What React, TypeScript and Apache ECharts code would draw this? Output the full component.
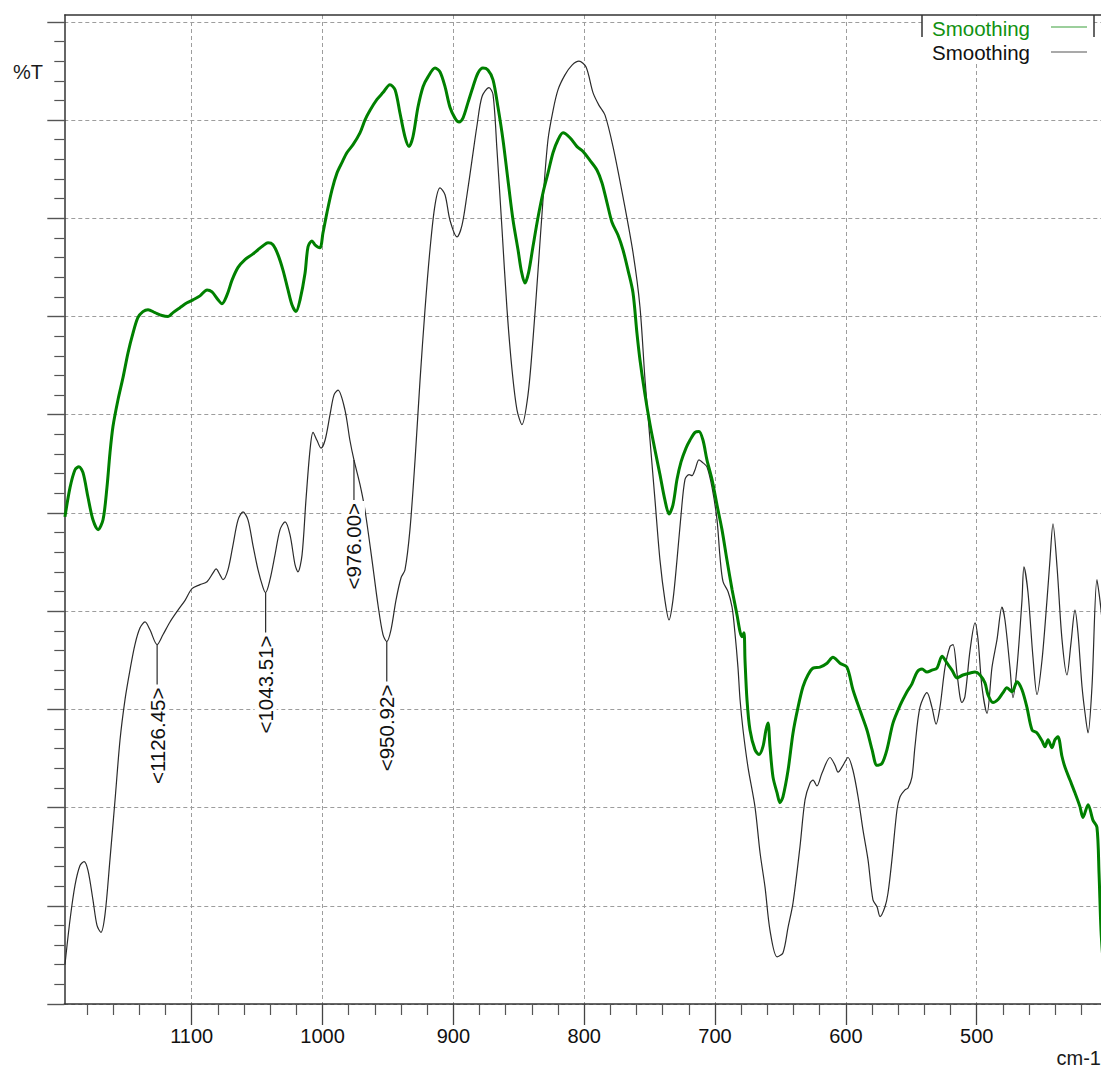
import { useEffect, useRef } from "react";
import * as echarts from "echarts";

const FONT = '"Liberation Sans", Arial, Helvetica, sans-serif';
const LABEL_FONT = `20.5px ${FONT}`;

// Axis ticks (wavenumber in cm-1, transmittance in %T)
const xMajorTicks = [500, 600, 700, 800, 900, 1000, 1100];
const xMinorTicks = [
  420, 440, 460, 480, 520, 540, 560, 580, 620, 640, 660, 680, 720, 740, 760, 780,
  820, 840, 860, 880, 920, 940, 960, 980, 1020, 1040, 1060, 1080, 1120, 1140, 1160, 1180,
];
const yMajorTicks = [0, 10, 20, 30, 40, 50, 60, 70, 80, 90, 100];
const yMinorTicks = [
  2, 4, 6, 8, 12, 14, 16, 18, 22, 24, 26, 28, 32, 34, 36, 38, 42, 44, 46, 48, 52, 54, 56, 58,
  62, 64, 66, 68, 72, 74, 76, 78, 82, 84, 86, 88, 92, 94, 96, 98,
];

// Spectrum 1 (thin black trace): [wavenumber, %T]
const blackTrace: [number, number][] = [
  [1196.9, 4.0], [1193.0, 8.6], [1189.2, 12.1], [1185.4, 14.1], [1182.3, 14.5], [1179.3, 13.6],
  [1175.5, 10.6], [1172.4, 8.0], [1169.4, 7.3], [1166.3, 9.1], [1162.5, 14.7], [1158.6, 20.8],
  [1154.8, 26.9], [1151.0, 31.0], [1147.2, 34.0], [1143.4, 36.6], [1139.5, 38.3], [1135.7, 38.9],
  [1131.9, 38.1], [1126.45, 36.6], [1122.0, 37.6], [1116.6, 38.9], [1110.5, 40.1], [1105.1, 41.1],
  [1099.8, 42.3], [1093.7, 42.7], [1088.3, 43.0], [1083.7, 43.9], [1081.4, 44.3], [1078.4, 43.7],
  [1076.1, 43.2], [1072.3, 44.2], [1068.5, 46.7], [1064.6, 49.3], [1060.8, 50.1], [1057.0, 49.3],
  [1053.2, 46.7], [1049.3, 44.2], [1045.5, 42.4], [1043.51, 41.9], [1040.2, 43.2], [1036.4, 45.7],
  [1032.5, 48.3], [1028.7, 49.1], [1024.9, 47.8], [1021.0, 44.7], [1018.8, 44.0], [1015.7, 45.7],
  [1012.7, 51.3], [1009.6, 56.4], [1007.3, 58.2], [1004.3, 57.4], [1001.2, 56.6], [998.1, 57.4],
  [994.3, 60.0], [991.3, 62.0], [988.2, 62.5], [982.9, 60.5], [979.1, 57.4], [976.0, 55.4],
  [971.4, 52.9], [967.6, 50.3], [962.2, 45.2], [957.6, 40.6], [953.8, 37.6], [950.92, 36.9],
  [947.7, 38.1], [943.9, 41.1], [940.0, 43.4], [937.0, 44.2], [933.2, 48.3], [929.3, 55.4],
  [925.5, 63.5], [921.7, 70.7], [917.9, 76.8], [914.0, 81.4], [910.2, 83.1], [906.4, 82.4],
  [902.6, 79.8], [897.2, 78.1], [893.4, 79.3], [889.6, 82.4], [885.8, 85.9], [881.9, 89.5],
  [878.1, 92.4], [872.8, 93.3], [869.7, 92.6], [866.7, 87.0], [862.8, 78.8], [859.0, 70.7],
  [855.2, 64.6], [851.4, 60.5], [847.6, 59.0], [843.0, 62.0], [839.2, 67.6], [835.3, 74.7],
  [831.5, 81.9], [827.7, 88.0], [823.8, 91.0], [820.0, 93.1], [814.7, 94.6], [809.3, 95.6],
  [804.0, 96.0], [798.6, 95.4], [793.3, 92.8], [788.7, 91.5], [784.1, 90.5], [778.0, 87.3],
  [770.4, 82.2], [762.7, 76.5], [757.4, 71.0], [753.5, 63.5], [749.7, 57.4], [745.9, 51.3],
  [742.1, 45.2], [738.3, 41.1], [735.2, 39.1], [732.2, 41.1], [729.1, 45.2], [726.0, 49.8],
  [723.0, 53.4], [719.9, 53.9], [717.6, 53.8], [715.3, 54.4], [712.3, 55.4], [709.2, 55.1],
  [706.2, 54.7], [702.3, 52.6], [698.5, 49.3], [696.2, 45.5], [693.9, 43.0], [690.1, 42.0],
  [687.0, 40.4], [684.8, 37.8], [682.5, 34.3], [680.9, 31.0], [678.6, 27.9], [674.8, 24.1],
  [669.5, 20.1], [665.6, 15.4], [661.8, 11.9], [658.0, 7.5], [652.6, 4.8], [648.1, 5.2],
  [644.2, 7.8], [640.4, 10.3], [635.1, 16.0], [631.2, 20.8], [627.4, 22.5], [625.1, 22.8],
  [622.1, 22.2], [618.3, 23.5], [612.1, 25.1], [608.3, 24.3], [606.0, 23.6], [602.2, 24.3],
  [598.4, 25.1], [594.6, 23.8], [590.7, 21.1], [586.9, 17.7], [583.1, 14.7], [579.3, 10.6],
  [576.2, 9.9], [573.9, 8.9], [570.1, 9.9], [567.8, 11.3], [564.8, 14.7], [560.9, 19.8],
  [558.6, 21.1], [554.8, 21.8], [552.5, 22.0], [549.5, 23.1], [547.2, 26.2], [543.4, 30.2],
  [538.0, 31.7], [534.2, 30.2], [531.1, 28.5], [528.1, 30.2], [524.2, 34.3], [520.4, 36.4],
  [518.1, 36.6], [515.1, 33.7], [512.8, 31.3], [511.3, 30.7], [509.0, 31.3], [505.1, 36.0],
  [501.3, 38.8], [499.0, 37.1], [496.0, 32.3], [492.1, 29.6], [488.3, 34.3], [484.5, 37.1],
  [480.7, 40.4], [478.4, 39.1], [474.6, 34.3], [472.3, 31.2], [469.2, 34.3], [465.4, 41.1],
  [463.9, 44.5], [460.8, 41.9], [457.0, 35.3], [453.9, 31.5], [450.1, 35.0], [446.3, 41.1],
  [444.0, 45.2], [441.7, 48.9], [438.6, 44.5], [434.8, 37.1], [431.0, 33.5], [427.9, 36.8],
  [424.9, 40.1], [422.6, 37.8], [419.5, 32.3], [417.2, 29.6], [414.9, 27.6], [411.9, 32.3],
  [408.1, 43.2], [405.8, 41.1], [404.2, 39.1],
];

// Spectrum 2 (thick green trace): [wavenumber, %T]
const greenTrace: [number, number][] = [
  [1196.9, 49.6], [1193.0, 52.6], [1189.2, 54.4], [1186.2, 54.7], [1183.1, 54.1], [1179.3, 51.6],
  [1175.5, 49.3], [1171.6, 48.3], [1167.8, 49.3], [1164.8, 52.6], [1162.5, 56.1], [1160.2, 58.8],
  [1156.4, 61.5], [1152.5, 63.8], [1148.7, 66.3], [1144.9, 68.3], [1141.1, 69.9], [1137.3, 70.5],
  [1133.4, 70.7], [1128.1, 70.4], [1122.7, 70.1], [1118.1, 70.0], [1114.3, 70.4], [1109.0, 70.9],
  [1103.6, 71.4], [1099.0, 71.7], [1093.7, 72.1], [1088.3, 72.7], [1084.5, 72.5], [1079.9, 71.7],
  [1076.9, 71.3], [1073.0, 72.2], [1069.2, 73.7], [1064.6, 75.0], [1059.3, 75.8], [1053.9, 76.3],
  [1049.3, 76.8], [1045.5, 77.2], [1041.7, 77.5], [1037.9, 77.3], [1034.1, 76.3], [1030.2, 74.7],
  [1026.4, 72.7], [1023.4, 71.2], [1020.3, 70.5], [1017.2, 71.7], [1013.4, 74.4], [1011.1, 77.1],
  [1008.1, 77.7], [1005.8, 77.3], [1002.0, 77.0], [999.7, 78.5], [996.6, 80.6], [992.8, 82.9],
  [989.0, 84.6], [985.1, 85.7], [981.3, 86.7], [976.7, 87.5], [971.4, 88.7], [967.6, 90.0],
  [963.7, 91.0], [958.4, 92.1], [953.8, 92.8], [948.5, 93.6], [944.6, 93.1], [940.8, 90.7],
  [937.0, 88.3], [933.9, 87.3], [930.9, 88.3], [927.1, 91.3], [923.2, 93.4], [919.4, 94.4],
  [914.0, 95.3], [910.2, 94.9], [906.4, 93.4], [902.6, 91.3], [898.8, 90.2], [895.7, 89.8],
  [892.7, 90.2], [888.8, 91.8], [885.0, 93.4], [881.2, 94.8], [877.4, 95.3], [873.6, 95.1],
  [869.7, 94.1], [865.9, 91.3], [862.1, 88.0], [858.3, 83.9], [854.4, 79.8], [850.6, 76.8],
  [848.0, 74.6], [845.3, 73.4], [842.5, 74.5], [839.2, 77.1], [835.3, 80.1], [831.5, 82.6],
  [827.7, 84.6], [823.8, 86.7], [820.0, 88.0], [816.2, 88.7], [810.9, 88.2], [805.5, 87.3],
  [800.9, 86.8], [795.6, 85.9], [790.2, 84.9], [786.4, 83.6], [782.6, 81.6], [778.8, 79.6],
  [774.2, 78.3], [770.4, 76.8], [766.5, 74.7], [762.7, 72.4], [759.7, 68.3], [757.4, 65.6],
  [753.5, 62.0], [749.7, 59.0], [745.9, 56.4], [742.1, 53.9], [738.3, 51.3], [735.2, 49.9],
  [732.2, 50.8], [729.1, 53.4], [726.0, 55.2], [722.2, 56.6], [719.2, 57.4], [715.3, 58.2],
  [712.3, 58.3], [709.2, 57.4], [706.2, 55.4], [702.3, 53.4], [698.5, 50.8], [694.7, 48.3],
  [690.9, 45.2], [687.0, 42.2], [683.2, 39.6], [680.9, 37.9], [679.4, 37.4], [677.9, 37.8],
  [677.1, 35.0], [675.6, 31.0], [673.3, 27.9], [669.5, 25.9], [666.4, 25.4], [663.4, 26.2],
  [661.1, 27.9], [659.5, 28.6], [658.0, 26.2], [655.7, 23.1], [652.6, 21.5], [650.4, 20.5],
  [648.1, 21.1], [644.2, 23.8], [640.4, 27.6], [636.6, 30.2], [632.8, 32.3], [629.0, 33.5],
  [625.1, 34.2], [619.8, 34.3], [614.4, 34.7], [609.9, 35.3], [604.5, 34.7], [599.2, 34.3],
  [594.6, 32.0], [589.2, 29.9], [583.9, 27.9], [580.0, 25.9], [576.2, 24.3], [572.4, 24.5],
  [568.6, 25.9], [564.0, 28.6], [558.6, 30.4], [553.3, 31.8], [549.5, 32.6], [545.6, 33.8],
  [541.8, 34.1], [538.0, 33.8], [534.2, 34.0], [530.4, 34.2], [526.5, 35.4], [522.7, 34.7],
  [518.9, 34.0], [515.1, 33.2], [510.5, 33.5], [505.1, 33.7], [501.3, 33.8], [497.5, 33.5],
  [493.7, 32.7], [491.4, 31.5], [487.6, 30.7], [483.7, 31.0], [479.9, 31.7], [476.9, 32.2],
  [473.0, 31.8], [469.2, 32.8], [465.4, 32.0], [461.6, 30.2], [457.7, 27.9], [453.9, 27.6],
  [450.1, 26.8], [447.8, 26.2], [445.5, 26.9], [442.5, 26.1], [440.2, 26.9], [437.9, 27.2],
  [434.8, 25.2], [432.5, 24.1], [428.7, 22.8], [424.9, 21.5], [421.1, 20.1], [418.8, 19.0],
  [414.9, 20.3], [411.1, 18.7], [408.1, 18.0], [406.5, 13.3], [405.0, 7.5], [403.5, 4.5],
];

// Peak picks on the black trace
const peakWavenumbers = [1126.45, 1043.51, 976.0, 950.92];
const peakTransmittance = [36.6, 41.9, 55.4, 36.9];
const peakLabels = ["<1126.45>", "<1043.51>", "<976.00>", "<950.92>"];

const legendNames = ["Smoothing", "Smoothing"];

const X_MIN = 405;
const X_MAX = 1197.4;
const Y_MIN = 0;
const Y_MAX = 100.7;
const STEM = 40;

let measureCtx: CanvasRenderingContext2D | null = null;
function textWidth(text: string, font: string): number {
  if (!measureCtx && typeof document !== "undefined") {
    measureCtx = document.createElement("canvas").getContext("2d");
  }
  if (!measureCtx) return text.length * 11;
  measureCtx.font = font;
  return measureCtx.measureText(text).width;
}

const gridDash = { color: "#9d9d9d", width: 1, type: [4, 3] as number[] };

function buildOption(): echarts.EChartsOption {
  return {
    animation: false,
    backgroundColor: "#ffffff",
    grid: { left: 64.3, right: 0, top: 15, bottom: 66, containLabel: false },
    xAxis: [
      {
        type: "value",
        min: X_MIN,
        max: X_MAX,
        inverse: true,
        position: "bottom",
        axisLine: { show: true, onZero: false, lineStyle: { color: "#333333", width: 1.5 } },
        axisTick: {
          show: true,
          inside: false,
          length: 21,
          customValues: xMajorTicks,
          lineStyle: { color: "#444444", width: 1.3 },
        },
        axisLabel: {
          show: true,
          customValues: xMajorTicks,
          margin: 22,
          color: "#111111",
          fontSize: 20,
          fontFamily: FONT,
          formatter: (v: number) => String(v),
        },
        splitLine: { show: true, lineStyle: gridDash },
      } as any,
      {
        type: "value",
        min: X_MIN,
        max: X_MAX,
        inverse: true,
        position: "bottom",
        axisLine: { show: false, onZero: false },
        axisTick: {
          show: true,
          inside: false,
          length: 11,
          customValues: xMinorTicks,
          lineStyle: { color: "#555555", width: 1.2 },
        },
        axisLabel: { show: false },
        splitLine: { show: false },
      } as any,
    ],
    yAxis: [
      {
        type: "value",
        min: Y_MIN,
        max: Y_MAX,
        position: "left",
        axisLine: { show: true, onZero: false, lineStyle: { color: "#333333", width: 1.5 } },
        axisTick: {
          show: true,
          inside: false,
          length: 17,
          customValues: yMajorTicks,
          lineStyle: { color: "#555555", width: 1.4 },
        },
        axisLabel: { show: false, customValues: yMajorTicks },
        splitLine: { show: true, lineStyle: gridDash },
      } as any,
      {
        type: "value",
        min: Y_MIN,
        max: Y_MAX,
        position: "left",
        axisLine: { show: false, onZero: false },
        axisTick: {
          show: true,
          inside: false,
          length: 10,
          customValues: yMinorTicks,
          lineStyle: { color: "#555555", width: 1.2 },
        },
        axisLabel: { show: false },
        splitLine: { show: false },
      } as any,
    ],
    series: [
      {
        type: "line",
        name: legendNames[1],
        xAxisIndex: 0,
        yAxisIndex: 0,
        data: blackTrace,
        showSymbol: false,
        symbol: "none",
        smooth: 0.3,
        lineStyle: { color: "#2b2b2b", width: 1.2 },
        z: 3,
      },
      {
        type: "line",
        name: legendNames[0],
        xAxisIndex: 0,
        yAxisIndex: 0,
        data: greenTrace,
        showSymbol: false,
        symbol: "none",
        smooth: 0.3,
        lineStyle: { color: "#008000", width: 3 },
        z: 4,
      },
      {
        type: "custom",
        xAxisIndex: 0,
        yAxisIndex: 0,
        data: peakWavenumbers.map((w, i) => [w, peakTransmittance[i]]),
        z: 5,
        renderItem: (params: any, api: any) => {
          const i = params.dataIndex;
          const p = api.coord([api.value(0), api.value(1)]);
          const stemEnd = p[1] + STEM;
          const label = peakLabels[i];
          const w = textWidth(label, LABEL_FONT);
          return {
            type: "group",
            children: [
              {
                type: "rect",
                shape: { x: p[0] - 11, y: stemEnd + 1, width: 22, height: w + 5 },
                style: { fill: "#ffffff" },
              },
              {
                type: "line",
                shape: { x1: p[0], y1: p[1], x2: p[0], y2: stemEnd },
                style: { stroke: "#2a2a2a", lineWidth: 1.2 },
              },
              {
                type: "text",
                x: p[0],
                y: stemEnd + 3,
                rotation: Math.PI / 2,
                style: {
                  text: label,
                  font: LABEL_FONT,
                  fill: "#111111",
                  textAlign: "right",
                  textVerticalAlign: "middle",
                },
              },
            ],
          };
        },
      } as any,
    ],
    graphic: [
      {
        type: "line",
        z: 50,
        shape: { x1: 64.3, y1: 15, x2: 1101, y2: 15 },
        style: { stroke: "#333333", lineWidth: 1.5 },
      },
      {
        type: "text",
        z: 50,
        x: 13,
        y: 72,
        style: {
          text: "%T",
          font: `20px ${FONT}`,
          fill: "#1a1a1a",
          textAlign: "left",
          textVerticalAlign: "middle",
        },
      },
      {
        type: "text",
        z: 50,
        x: 1101,
        y: 1058,
        style: {
          text: "cm-1",
          font: `20px ${FONT}`,
          fill: "#1a1a1a",
          textAlign: "right",
          textVerticalAlign: "middle",
        },
      },
      // legend box
      {
        type: "rect",
        z: 60,
        shape: { x: 922, y: 16, width: 172, height: 46 },
        style: { fill: "#ffffff" },
      },
      {
        type: "line",
        z: 61,
        shape: { x1: 922, y1: 15, x2: 922, y2: 37 },
        style: { stroke: "#333333", lineWidth: 1.5 },
      },
      {
        type: "line",
        z: 61,
        shape: { x1: 1094, y1: 15, x2: 1094, y2: 37 },
        style: { stroke: "#333333", lineWidth: 1.5 },
      },
      {
        type: "text",
        z: 61,
        x: 932,
        y: 28,
        style: {
          text: legendNames[0],
          font: `20.5px ${FONT}`,
          fill: "#119111",
          textAlign: "left",
          textVerticalAlign: "middle",
        },
      },
      {
        type: "text",
        z: 61,
        x: 932,
        y: 52,
        style: {
          text: legendNames[1],
          font: `20.5px ${FONT}`,
          fill: "#111111",
          textAlign: "left",
          textVerticalAlign: "middle",
        },
      },
      {
        type: "line",
        z: 61,
        shape: { x1: 1051, y1: 27, x2: 1087, y2: 27 },
        style: { stroke: "#3aa03a", lineWidth: 1.2 },
      },
      {
        type: "line",
        z: 61,
        shape: { x1: 1051, y1: 52, x2: 1087, y2: 52 },
        style: { stroke: "#555555", lineWidth: 1.2 },
      },
    ],
  } as echarts.EChartsOption;
}

export default function App() {
  const ref = useRef<HTMLDivElement>(null);
  useEffect(() => {
    if (!ref.current) return;
    const chart = echarts.init(ref.current, null, { renderer: "svg" });
    chart.setOption(buildOption());
    return () => chart.dispose();
  }, []);
  return (
    <div
      ref={ref}
      style={{ position: "absolute", left: 0, top: 0, width: 1101, height: 1070, background: "#ffffff" }}
    />
  );
}
